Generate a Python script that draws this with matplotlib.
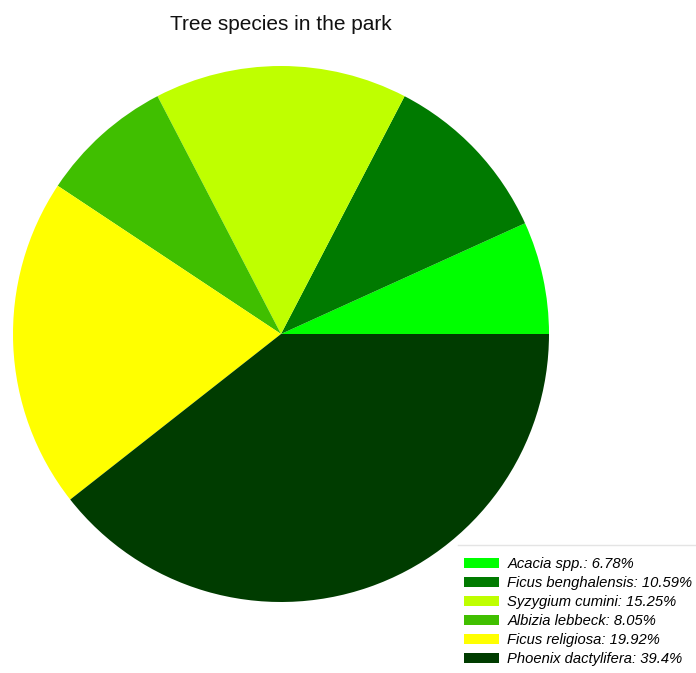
import matplotlib.pyplot as plt
from matplotlib.lines import Line2D

# tree counts as percentage shares
species = ["Acacia spp.", "Ficus benghalensis", "Syzygium cumini",
           "Albizia lebbeck", "Ficus religiosa", "Phoenix dactylifera"]
shares = [6.78, 10.59, 15.25, 8.05, 19.92, 39.4]
colors = ["#00ff00", "#007a00", "#bfff00", "#40bf00", "#ffff00", "#003c00"]

plt.rcParams['font.family'] = ['Liberation Sans', 'DejaVu Sans']

fig = plt.figure(figsize=(6.96, 6.73), dpi=100)
ax = fig.add_axes([0, 0, 1, 1])
ax.set_xlim(0, 696)
ax.set_ylim(0, 673)
ax.set_aspect('equal')
ax.axis('off')

wedges, _ = ax.pie(shares, colors=colors, startangle=0, counterclock=True,
                   center=(281, 339), radius=268,
                   wedgeprops=dict(linewidth=0))
ax.set_xlim(0, 696)
ax.set_ylim(0, 673)

fig.text(281 / 696, 1 - 25 / 673, "Tree species in the park",
         ha='center', va='center', fontsize=15, color='#111111')

labels = [f"{s}: {v}%" for s, v in zip(species, shares)]
leg = fig.legend(wedges, labels, loc='upper left',
                 bbox_to_anchor=(464 / 696, 1 - 557 / 673),
                 frameon=False, borderpad=0, borderaxespad=0,
                 handlelength=2.35, handleheight=0.68, handletextpad=0.6,
                 labelspacing=0.34,
                 prop=dict(family='Liberation Sans', style='italic', size=10.6))

# thin rule above the legend
fig.add_artist(Line2D([458 / 696, 1], [1 - 545 / 673, 1 - 545 / 673],
                      transform=fig.transFigure, color='#e4e4e4', lw=1))

fig.savefig("out.png", dpi=100)
